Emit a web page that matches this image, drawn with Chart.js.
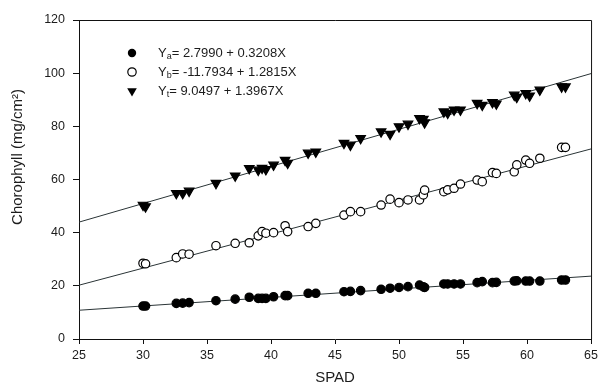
<!DOCTYPE html>
<html>
<head>
<meta charset="utf-8">
<script src="https://cdn.jsdelivr.net/npm/chart.js@4.4.0/dist/chart.umd.min.js"></script>
<style>
  html, body { margin: 0; padding: 0; background: #fff; }
  #wrap { width: 602px; height: 390px; }
</style>
</head>
<body>
<div id="wrap"><canvas id="chl"></canvas></div>
<script>
// SPAD readings (same samples for the three pigments)
const spad = [30.0, 30.2, 32.6, 33.1, 33.6, 35.7, 37.2, 38.3, 39.0, 39.3, 39.6, 40.2, 41.1, 41.3,
  42.9, 43.5, 45.7, 46.2, 47.0, 48.6, 49.3, 50.0, 50.7, 51.6, 51.9, 52.0, 53.5, 53.8, 54.3, 54.8,
  56.1, 56.5, 57.3, 57.6, 59.0, 59.2, 59.9, 60.2, 61.0, 62.7, 63.0];

// chlorophyll a, b and total (mg/cm2)
const chlA = [12.4, 12.4, 13.4, 13.5, 13.7, 14.4, 15.0, 15.7, 15.3, 15.3, 15.3, 15.9, 16.3, 16.3,
  17.2, 17.2, 17.8, 17.9, 18.2, 18.7, 19.1, 19.4, 19.7, 20.3, 19.6, 19.4, 20.7, 20.7, 20.7, 20.7,
  21.2, 21.6, 21.2, 21.3, 21.8, 21.9, 21.8, 21.8, 21.8, 22.2, 22.2];
const chlB = [28.5, 28.3, 30.6, 32.0, 31.9, 35.1, 36.0, 36.2, 38.8, 40.4, 39.8, 40.0, 42.6, 40.4,
  42.3, 43.5, 46.6, 47.9, 47.9, 50.4, 52.6, 51.3, 52.3, 52.3, 54.2, 56.0, 55.4, 56.1, 56.7, 58.3,
  59.8, 59.2, 62.6, 62.3, 62.9, 65.5, 67.3, 66.1, 68.0, 72.1, 72.1];
const chlT = [50.4, 49.8, 54.8, 54.8, 55.7, 58.6, 61.4, 64.2, 63.6, 64.3, 63.8, 65.5, 67.3, 66.2,
  70.0, 70.4, 73.7, 73.0, 75.5, 78.0, 77.1, 79.9, 80.9, 83.0, 82.7, 81.4, 85.5, 85.0, 86.2, 86.2,
  88.7, 88.0, 89.0, 88.5, 91.8, 91.0, 92.4, 91.5, 93.7, 94.9, 94.9];

// fitted lines, ends at SPAD 25 and 65
const fitX = [25, 65];
const fitA = [10.82, 23.65];
const fitB = [20.24, 71.50];
const fitT = [43.97, 99.84];

const xTicks = [25, 30, 35, 40, 45, 50, 55, 60, 65];
const yTicks = [0, 20, 40, 60, 80, 100, 120];

// legend rows: subscript + equation
const legSub = ['a', 'b', 't'];
const legEq = ['= 2.7990 + 0.3208X', '= -11.7934 + 1.2815X', '= 9.0497 + 1.3967X'];

const FONT = '"Liberation Sans", Arial, sans-serif';
const INK = '#1c1c1c';

function pts(xs, ys) {
  return xs.map((x, i) => ({ x: x, y: ys[i] }));
}

function drawMark(ctx, kind, x, y) {
  ctx.save();
  ctx.fillStyle = '#000';
  ctx.strokeStyle = '#000';
  ctx.lineWidth = 1.2;
  ctx.beginPath();
  if (kind === 0) {
    ctx.arc(x, y, 4.2, 0, Math.PI * 2);
    ctx.fill();
  } else if (kind === 1) {
    ctx.arc(x, y, 4.2, 0, Math.PI * 2);
    ctx.fillStyle = '#fff';
    ctx.fill();
    ctx.stroke();
  } else {
    ctx.moveTo(x - 4.8, y - 2.8);
    ctx.lineTo(x + 4.8, y - 2.8);
    ctx.lineTo(x, y + 5.5);
    ctx.closePath();
    ctx.fill();
  }
  ctx.restore();
}

// equations legend with subscripts + y title + frame
const extras = {
  id: 'extras',
  afterDraw(chart) {
    const ctx = chart.ctx;
    const area = chart.chartArea;

    // frame on top and right
    ctx.save();
    ctx.strokeStyle = '#111';
    ctx.lineWidth = 1;
    ctx.beginPath();
    ctx.moveTo(area.left, area.top + 0.5);
    ctx.lineTo(area.right + 0.5, area.top + 0.5);
    ctx.lineTo(area.right + 0.5, area.bottom);
    ctx.stroke();
    ctx.restore();

    // legend
    const mx = area.left + 53;
    const tx = area.left + 79;
    legEq.forEach((eq, i) => {
      const y = area.top + 33 + i * 19;
      drawMark(ctx, i, mx, y);
      ctx.save();
      ctx.fillStyle = INK;
      ctx.textBaseline = 'middle';
      ctx.font = '13px ' + FONT;
      ctx.fillText('Y', tx, y);
      let x = tx + ctx.measureText('Y').width;
      ctx.font = '9px ' + FONT;
      ctx.fillText(legSub[i], x, y + 4);
      x += ctx.measureText(legSub[i]).width;
      ctx.font = '13px ' + FONT;
      ctx.fillText(eq, x, y);
      ctx.restore();
    });

    // y axis title
    ctx.save();
    ctx.translate(18, 157);
    ctx.rotate(-Math.PI / 2);
    ctx.fillStyle = INK;
    ctx.font = '15px ' + FONT;
    ctx.textAlign = 'center';
    ctx.textBaseline = 'middle';
    ctx.fillText('Chorophyll (mg/cm\u00b2)', 0, 0);
    ctx.restore();
  }
};

const scatterStyle = {
  borderColor: '#000',
  borderWidth: 1.2,
  showLine: false
};

const lineStyle = {
  borderColor: '#2a3436',
  borderWidth: 1,
  pointRadius: 0,
  showLine: true,
  fill: false
};

new Chart(document.getElementById('chl'), {
  type: 'scatter',
  data: {
    datasets: [
      Object.assign({ label: 'a', data: pts(spad, chlA), pointStyle: 'circle', pointRadius: 4.2,
        backgroundColor: '#000' }, scatterStyle),
      Object.assign({ label: 'b', data: pts(spad, chlB), pointStyle: 'circle', pointRadius: 4.2,
        backgroundColor: '#fff' }, scatterStyle),
      Object.assign({ label: 't', data: pts(spad, chlT), pointStyle: 'triangle', pointRadius: 5.5,
        rotation: 180, backgroundColor: '#000' }, scatterStyle),
      Object.assign({ label: 'fit a', data: pts(fitX, fitA) }, lineStyle),
      Object.assign({ label: 'fit b', data: pts(fitX, fitB) }, lineStyle),
      Object.assign({ label: 'fit t', data: pts(fitX, fitT) }, lineStyle)
    ]
  },
  options: {
    responsive: true,
    maintainAspectRatio: false,
    animation: false,
    layout: { padding: { top: 20, right: 8, left: 0, bottom: 0 } },
    plugins: {
      legend: { display: false },
      tooltip: { enabled: false }
    },
    scales: {
      x: {
        type: 'linear',
        min: 25,
        max: 65,
        afterBuildTicks: (s) => { s.ticks = xTicks.map(v => ({ value: v })); },
        afterFit: (s) => { s.height = 51; },
        border: { display: true, color: '#111', width: 1 },
        grid: { drawOnChartArea: false, drawTicks: true, tickLength: 5, color: '#111' },
        ticks: { color: INK, font: { family: FONT, size: 12.5 }, padding: 4 },
        title: { display: true, text: 'SPAD', color: INK, font: { family: FONT, size: 15 },
          padding: { top: 0, bottom: 3 } }
      },
      y: {
        type: 'linear',
        min: 0,
        max: 120,
        afterBuildTicks: (s) => { s.ticks = yTicks.map(v => ({ value: v })); },
        afterFit: (s) => { s.width = 79; },
        border: { display: true, color: '#111', width: 1 },
        grid: { drawOnChartArea: false, drawTicks: true, tickLength: 6, color: '#111' },
        ticks: { color: INK, font: { family: FONT, size: 12.5 }, padding: 8 }
      }
    }
  },
  plugins: [extras]
});
</script>
</body>
</html>
